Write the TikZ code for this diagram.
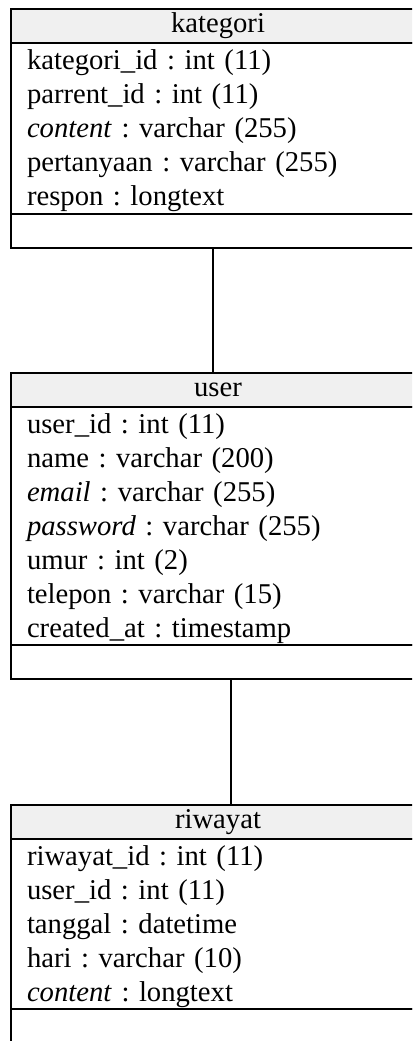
\documentclass[tikz,border=0pt]{standalone}
\usepackage{fontspec}
\setmainfont{Liberation Serif}
\frenchspacing
\usetikzlibrary{positioning}
\definecolor{ink}{HTML}{000000}
\definecolor{headgray}{HTML}{F0F0F0}
\tikzset{
  box/.style={draw=ink, line width=1.4pt, inner sep=0pt, outer sep=0pt, minimum width=310.5pt,
              font=\fontsize{21.5}{25.5}\selectfont},
  clshead/.style={box, fill=headgray, minimum height=25.5pt},
  clsattr/.style={box, fill=white, text width=286.5pt, inner xsep=12pt, align=left,
                  execute at begin node={\rule{0pt}{18.5pt}}},
  clsops/.style={box, fill=white, minimum height=25.5pt},
  assoc/.style={draw=ink, line width=1.3pt},
}
\begin{document}
\begin{tikzpicture}[x=0.75pt, y=-0.75pt]
  \useasboundingbox (0,0) rectangle (412,1041);
  \clip (0,0) rectangle (412,1041);
  % kategori
  \node[clshead, anchor=north west] (kat-head) at (11,9) {kategori};
  \node[clsattr, below=0pt of kat-head, minimum height=128.25pt] (kat-attr)
    {kategori\_id : int (11)\\ parrent\_id : int (11)\\ \textit{content} : varchar (255)\\
     pertanyaan : varchar (255)\\ respon : longtext};
  \node[clsops, below=0pt of kat-attr] (kat-ops) {};
  % user
  \node[clshead, below=93.75pt of kat-ops] (usr-head) {user};
  \node[clsattr, below=0pt of usr-head, minimum height=178.5pt] (usr-attr)
    {user\_id : int (11)\\ name : varchar (200)\\ \textit{email} : varchar (255)\\
     \textit{password} : varchar (255)\\ umur : int (2)\\ telepon : varchar (15)\\
     created\_at : timestamp};
  \node[clsops, below=0pt of usr-attr] (usr-ops) {};
  % riwayat
  \node[clshead, below=94.5pt of usr-ops] (riw-head) {riwayat};
  \node[clsattr, below=0pt of riw-head, minimum height=127.5pt] (riw-attr)
    {riwayat\_id : int (11)\\ user\_id : int (11)\\ tanggal : datetime\\
     hari : varchar (10)\\ \textit{content} : longtext};
  \node[clsops, below=0pt of riw-attr, minimum height=30pt] (riw-ops) {};
  % relasi
  \draw[assoc] ([xshift=-3.75pt]kat-ops.south) -- ([xshift=-3.75pt]usr-head.north);
  \draw[assoc] ([xshift=9.75pt]usr-ops.south) -- ([xshift=9.75pt]riw-head.north);
\end{tikzpicture}
\end{document}
